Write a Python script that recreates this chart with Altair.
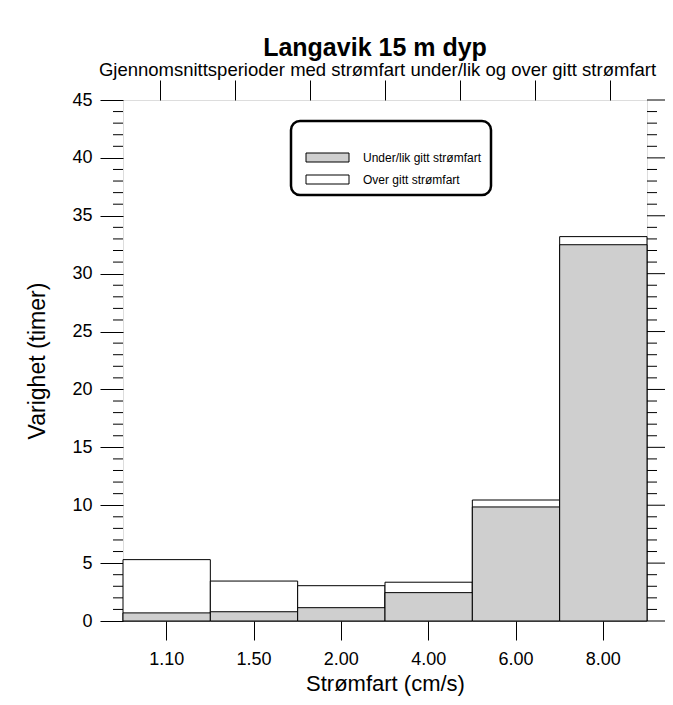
import altair as alt
import pandas as pd

categories = ["1.10", "1.50", "2.00", "4.00", "6.00", "8.00"]
under_vals = [0.7, 0.8, 1.15, 2.45, 9.85, 32.5]
over_vals = [5.3, 3.45, 3.05, 3.35, 10.45, 33.2]
y_major = [0, 5, 10, 15, 20, 25, 30, 35, 40, 45]
y_minor = [v for v in range(0, 46) if v % 5 != 0]
top_ticks = [0, 1, 2, 3, 4, 5, 6]
legend_labels = ["Under/lik gitt strømfart", "Over gitt strømfart"]

FONT = "Liberation Sans"
GRAY = "#cfcfcf"
W, H = 524, 521

rows = []
for c, v in zip(categories, over_vals):
    rows.append({"cat": c, "series": "Over", "val": v})
for c, v in zip(categories, under_vals):
    rows.append({"cat": c, "series": "Under", "val": v})
bars_df = pd.DataFrame(rows)

yscale = alt.Scale(domain=[0, 45], nice=False, zero=True)

bars = alt.Chart(bars_df).mark_bar(stroke="black", strokeWidth=1).encode(
    x=alt.X("cat:N", sort=categories,
            scale=alt.Scale(paddingInner=0, paddingOuter=0),
            axis=alt.Axis(title="Strømfart (cm/s)", labelAngle=0, domain=False,
                          tickSize=19, tickColor="black", labelPadding=10,
                          labelFontSize=18, labelFont=FONT, labelColor="black",
                          titleFont=FONT, titleFontSize=22, titleFontWeight="normal",
                          titleColor="black", titlePadding=5)),
    y=alt.Y("val:Q", stack=None, scale=yscale,
            axis=alt.Axis(title="Varighet (timer)", values=y_major, tickSize=23,
                          tickColor="black", domain=False, labelPadding=8,
                          labelFontSize=18, labelFont=FONT, labelColor="black",
                          titleFont=FONT, titleFontSize=23, titleFontWeight="normal",
                          titleColor="black", titlePadding=22, grid=False)),
    fill=alt.Fill("series:N", scale=alt.Scale(domain=["Over", "Under"], range=["white", GRAY]),
                  legend=None),
)

minor_df = pd.DataFrame({"v": y_minor})
major_df = pd.DataFrame({"v": y_major})

left_minor = alt.Chart(minor_df).mark_rule(color="black", strokeWidth=1).encode(
    y=alt.Y("v:Q", scale=yscale, axis=None), x=alt.value(-10), x2=alt.value(0))
right_minor = alt.Chart(minor_df).mark_rule(color="black", strokeWidth=1).encode(
    y=alt.Y("v:Q", scale=yscale, axis=None), x=alt.value(W), x2=alt.value(W + 10))
right_major = alt.Chart(major_df).mark_rule(color="black", strokeWidth=1).encode(
    y=alt.Y("v:Q", scale=yscale, axis=None), x=alt.value(W), x2=alt.value(W + 21))

top_axis = alt.Chart(pd.DataFrame({"t": top_ticks})).mark_point(opacity=0).encode(
    x=alt.X("t:Q", scale=alt.Scale(domain=[-0.5, 6.5], nice=False, zero=False),
            axis=alt.Axis(orient="top", values=top_ticks, labels=False, tickSize=20,
                          tickColor="black", domain=False, grid=False,
                          title="Gjennomsnittsperioder med strømfart under/lik og over gitt strømfart",
                          titleFont=FONT, titleFontSize=18.5, titleFontWeight="normal",
                          titleColor="black", titlePadding=0, titleX=254)),
    y=alt.value(0),
)

one = pd.DataFrame({"a": [0]})
legend_box = alt.Chart(one).mark_rect(fill="white", stroke="black", strokeWidth=2.5,
                                      cornerRadius=9).encode(
    x=alt.value(168), x2=alt.value(368), y=alt.value(21), y2=alt.value(95))
sw1 = alt.Chart(one).mark_rect(fill=GRAY, stroke="black", strokeWidth=1).encode(
    x=alt.value(183), x2=alt.value(226), y=alt.value(53), y2=alt.value(62))
sw2 = alt.Chart(one).mark_rect(fill="white", stroke="black", strokeWidth=1).encode(
    x=alt.value(183), x2=alt.value(226), y=alt.value(75), y2=alt.value(84))
leg_df = pd.DataFrame({"label": legend_labels, "yy": [57.5, 79.5]})
leg_text = alt.Chart(leg_df).mark_text(align="left", baseline="middle", font=FONT,
                                       fontSize=12, color="black").encode(
    x=alt.value(240), y=alt.Y("yy:Q", scale=alt.Scale(domain=[0, H], range=[0, H]), axis=None),
    text="label:N")

chart = alt.layer(
    bars, left_minor, right_minor, right_major, top_axis,
    legend_box, sw1, sw2, leg_text,
).resolve_scale(x="independent", y="independent").properties(
    width=W, height=H,
    autosize=alt.AutoSizeParams(type="none"),
    padding={"left": 115, "top": 92, "right": 18, "bottom": 84},
    title=alt.TitleParams("Langavik 15 m dyp", font=FONT, fontSize=25, fontWeight="bold",
                          color="black", anchor="middle", dx=-10, offset=0),
).configure_view(stroke="black", strokeWidth=1).configure(background="white")

chart.save("out.html", embed_options={"renderer": "svg", "actions": False})
